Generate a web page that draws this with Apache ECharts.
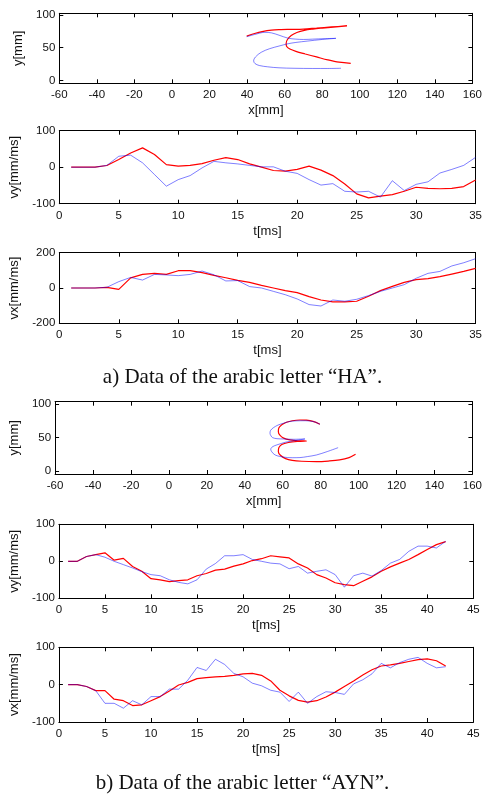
<!DOCTYPE html>
<html>
<head>
<meta charset="utf-8">
<script src="https://cdn.jsdelivr.net/npm/echarts@6/dist/echarts.min.js"></script>
<style>
html,body{margin:0;padding:0;background:#fff}
#chart{width:485px;height:796px}
</style>
</head>
<body>
<div id="chart"></div>
<script>
// ---- Letter "HA": pen trajectory (mm) ----
const haRedX  = [39.8, 44, 48, 53, 58, 64, 70, 77, 85, 93.2, 86, 80, 75, 70.5, 66.5, 63.5, 61.5, 60.8, 61.2, 62.8, 66, 71, 77, 83, 89, 95.2];
const haRedY  = [67.5, 71.5, 74.5, 76.8, 77.5, 77.8, 78.3, 79.8, 81.5, 82.9, 81.3, 79.8, 78.3, 76.3, 73, 68.5, 62.5, 56.5, 51.5, 48, 44.5, 40.5, 36, 31.5, 28, 26.3];
const haBlueX = [39.8, 44, 49.5, 53, 57, 61.8, 66, 70, 75, 81, 87.3, 80, 72, 66, 61.8, 57, 52, 47.5, 44.5, 43.5, 44.2, 46.5, 51, 57, 65, 75, 83, 90];
const haBlueY = [66.7, 70, 73.3, 72.5, 69, 64.5, 63, 62.5, 63, 63.7, 64.2, 62.5, 60, 58, 56, 52.5, 48.5, 43, 36, 30, 26, 23, 21, 19.5, 18.8, 18.5, 18.5, 18.8];

// ---- Letter "HA": velocities, one sample per ms starting at t = 1 ----
const haVyRed  = [0, 0, 0, 4.6, 21, 39, 53, 35, 7, 3, 5, 10, 19, 26, 21, 9, 0, -9, -11, -6, 3, -8, -23, -46, -73, -84, -79, -75, -66, -55, -58, -59, -58, -53, -35];
const haVyBlue = [0, 0, 0, 5, 30, 33, 12, -20, -52, -34, -23, -2, 16, 12, 9, 5, 1, 1, -11, -17, -34, -49, -45, -66, -68, -66, -82, -37, -64, -47, -40, -16, -6, 5, 27];
const haVxRed  = [0, 0, 0, 4, -8, 57, 77, 83, 77, 98, 98, 87, 72, 58, 43, 32, 15, 0, -15, -26, -49, -68, -79, -79, -75, -47, -15, 9, 32, 47, 53, 64, 79, 94, 111];
const haVxBlue = [0, 0, 0, 4, 36, 60, 45, 77, 74, 70, 77, 96, 75, 40, 42, 8, 0, -19, -38, -62, -94, -102, -68, -75, -64, -43, -19, 0, 19, 55, 83, 94, 125, 143, 166];

// ---- Letter "AYN": pen trajectory (mm) ----
const aynRedX  = [79.6, 76, 72.5, 69, 65, 62, 59.5, 58, 57.7, 58.5, 60.5, 63.8, 68, 72.6, 68, 63, 59.5, 58, 57.7, 58.8, 61.5, 65, 70, 77.8, 84, 90, 95, 98.4];
const aynRedY  = [69.7, 74, 75.8, 76.1, 75, 72.7, 69, 64.5, 58.7, 53.5, 49, 46.3, 45, 44.8, 44.2, 42.5, 39.5, 35, 28.8, 23.5, 18.5, 15.8, 14.5, 14, 14.8, 16.5, 20, 24.9];
const aynBlueX = [79.6, 76.5, 72, 67, 63, 60.3, 57.5, 55.1, 53.6, 53.3, 53.8, 54.7, 57, 60.3, 65.6, 71.7, 68, 65, 61.5, 59.5, 57, 54.7, 53.7, 54.2, 56, 60.3, 65, 69.1, 73, 77.8, 83.5, 89.2];
const aynBlueY = [69.7, 73.5, 75, 74.8, 73.5, 71.2, 68.5, 64.6, 60.5, 56.3, 52.5, 49.7, 48.2, 47.8, 47.3, 47.8, 46, 44.8, 43, 41.3, 39, 36.3, 32.5, 28.8, 23.9, 20.8, 19.8, 20, 21.5, 23.9, 29, 34.8];

// ---- Letter "AYN": velocities, one sample per ms starting at t = 1 ----
const aynVyRed  = [0, 0, 13, 18, 23, 3, 8, -14, -27, -47, -50, -55, -52, -50, -39, -33, -24, -21, -13, -7, 2, 7, 15, 12, 9, -7, -18, -36, -45, -58, -63, -66, -54, -42, -27, -15, -5, 5, 18, 32, 45, 53];
const aynVyBlue = [0, 0, 13, 18, 11, 0, -9, -18, -28, -36, -39, -50, -57, -61, -50, -21, -6, 15, 15, 18, 5, 0, -5, -7, -20, -14, -32, -27, -23, -36, -70, -39, -32, -40, -25, -5, 5, 27, 41, 41, 36, 54];
const aynVxRed  = [0, 0, -5, -16, -16, -39, -43, -56, -54, -43, -32, -17, -1, 6, 16, 19, 21, 22, 25, 29, 30, 25, 10, -15, -30, -42, -47, -43, -33, -20, -5, 10, 26, 40, 50, 53, 57, 62, 67, 69, 64, 50];
const aynVxBlue = [0, 0, -5, -16, -50, -50, -63, -43, -54, -32, -32, -12, -12, 12, 46, 38, 68, 54, 30, 21, 4, -3, -15, -20, -45, -20, -50, -32, -19, -21, -26, 2, 13, 29, 57, 45, 59, 68, 73, 57, 45, 48];

// ---- Axis ticks and captions ----
const posTicks    = [0, 50, 100];
const captionHA   = 'a) Data of the arabic letter \u201CHA\u201D.';
const captionAYN  = 'b) Data of the arabic letter \u201CAYN\u201D.';

const RED = '#ff0000';
const BLUE = 'rgba(0,0,255,0.5)';
const TICK_FONT = 11.5;
const NAME_FONT = 13;
const SANS = '"Liberation Sans", Arial, Helvetica, sans-serif';

const pairs = (xs, ys) => xs.map((x, i) => [x, ys[i]]);
const timed = vals => vals.map((v, i) => [i + 1, v]);

// Layout of the six panels
const panels = [
  { grid: {left: 59.3, top: 13.3, width: 416.7, height: 70},
    x: {min: -60, max: 160, interval: 20, name: 'x[mm]', gap: 21},
    y: {min: -4, max: 102.2, custom: posTicks, name: 'y[mm]', gap: 32},
    red: pairs(haRedX, haRedY), blue: pairs(haBlueX, haBlueY), smooth: 0.35 },
  { grid: {left: 59.3, top: 130.7, width: 416.7, height: 73},
    x: {min: 0, max: 35, interval: 5, name: 't[ms]', gap: 21},
    y: {min: -100, max: 100, interval: 100, name: 'vy[mm/ms]', gap: 33},
    red: timed(haVyRed), blue: timed(haVyBlue) },
  { grid: {left: 59.3, top: 252.7, width: 416.7, height: 70.6},
    x: {min: 0, max: 35, interval: 5, name: 't[ms]', gap: 21},
    y: {min: -200, max: 200, interval: 200, name: 'vx[mm/ms]', gap: 33},
    red: timed(haVxRed), blue: timed(haVxBlue) },
  { grid: {left: 54, top: 401.7, width: 419.3, height: 72.3},
    x: {min: -60, max: 160, interval: 20, name: 'x[mm]', gap: 21},
    y: {min: -4.5, max: 103.4, custom: posTicks, name: 'y[mm]', gap: 29},
    red: pairs(aynRedX, aynRedY), blue: pairs(aynBlueX, aynBlueY), smooth: 0.35 },
  { grid: {left: 54, top: 524.3, width: 419.3, height: 74},
    x: {min: 0, max: 45, interval: 5, name: 't[ms]', gap: 21},
    y: {min: -100, max: 100, interval: 100, name: 'vy[mm/ms]', gap: 31},
    red: timed(aynVyRed), blue: timed(aynVyBlue) },
  { grid: {left: 54, top: 647.3, width: 419.3, height: 74.7},
    x: {min: 0, max: 45, interval: 5, name: 't[ms]', gap: 21},
    y: {min: -100, max: 100, interval: 100, name: 'vx[mm/ms]', gap: 31},
    red: timed(aynVxRed), blue: timed(aynVxBlue) }
];

const grid = [], xAxis = [], yAxis = [], series = [];
const line = {show: true, onZero: false, lineStyle: {color: '#000', width: 1}};
const tick = {show: true, inside: true, length: 4, lineStyle: {color: '#000', width: 1}};

panels.forEach((p, i) => {
  grid.push(Object.assign({containLabel: false}, p.grid));
  const xBase = {gridIndex: i, type: 'value', min: p.x.min, max: p.x.max, interval: p.x.interval,
                 axisLine: line, splitLine: {show: false}};
  const yBase = {gridIndex: i, type: 'value', min: p.y.min, max: p.y.max,
                 axisLine: line, splitLine: {show: false}};
  if (p.y.interval) yBase.interval = p.y.interval;
  const yTick = p.y.custom ? Object.assign({}, tick, {customValues: p.y.custom}) : tick;

  // bottom / left axes carry labels
  xAxis.push(Object.assign({}, xBase, {
    position: 'bottom', axisTick: tick,
    axisLabel: {show: true, margin: 6, fontSize: TICK_FONT, fontFamily: SANS, color: '#111',
                showMinLabel: true, showMaxLabel: true, hideOverlap: false},
    name: p.x.name, nameLocation: 'middle', nameGap: p.x.gap,
    nameTextStyle: {fontSize: NAME_FONT, fontFamily: SANS, color: '#111'}
  }));
  const yLabel = {show: true, margin: 4, fontSize: TICK_FONT, fontFamily: SANS, color: '#111',
                  showMinLabel: true, showMaxLabel: true, hideOverlap: false};
  if (p.y.custom) yLabel.customValues = p.y.custom;
  yAxis.push(Object.assign({}, yBase, {
    position: 'left', axisTick: yTick, axisLabel: yLabel,
    name: p.y.name, nameLocation: 'middle', nameGap: p.y.gap, nameRotate: 90,
    nameTextStyle: {fontSize: NAME_FONT, fontFamily: SANS, color: '#111'}
  }));
  // top / right axes close the box and repeat the tick marks
  xAxis.push(Object.assign({}, xBase, {position: 'top', axisTick: tick, axisLabel: {show: false}}));
  yAxis.push(Object.assign({}, yBase, {position: 'right', axisTick: yTick, axisLabel: {show: false}}));

  const common = {type: 'line', xAxisIndex: 2 * i, yAxisIndex: 2 * i, showSymbol: false,
                  symbol: 'none', animation: false, silent: true, smooth: p.smooth || false};
  series.push(Object.assign({}, common, {data: p.red, lineStyle: {color: RED, width: 1.2}, z: 2}));
  series.push(Object.assign({}, common, {data: p.blue, lineStyle: {color: BLUE, width: 1}, z: 3}));
});

const chart = echarts.init(document.getElementById('chart'), null, {renderer: 'canvas'});
chart.setOption({
  backgroundColor: '#fff',
  animation: false,
  title: [
    {text: captionHA, left: 'center', top: 367, padding: 0,
     textStyle: {fontFamily: '"Liberation Serif", "Times New Roman", serif', fontSize: 21, fontWeight: 'normal', color: '#111'}},
    {text: captionAYN, left: 'center', top: 773, padding: 0,
     textStyle: {fontFamily: '"Liberation Serif", "Times New Roman", serif', fontSize: 21, fontWeight: 'normal', color: '#111'}}
  ],
  grid, xAxis, yAxis, series
});
</script>
</body>
</html>
